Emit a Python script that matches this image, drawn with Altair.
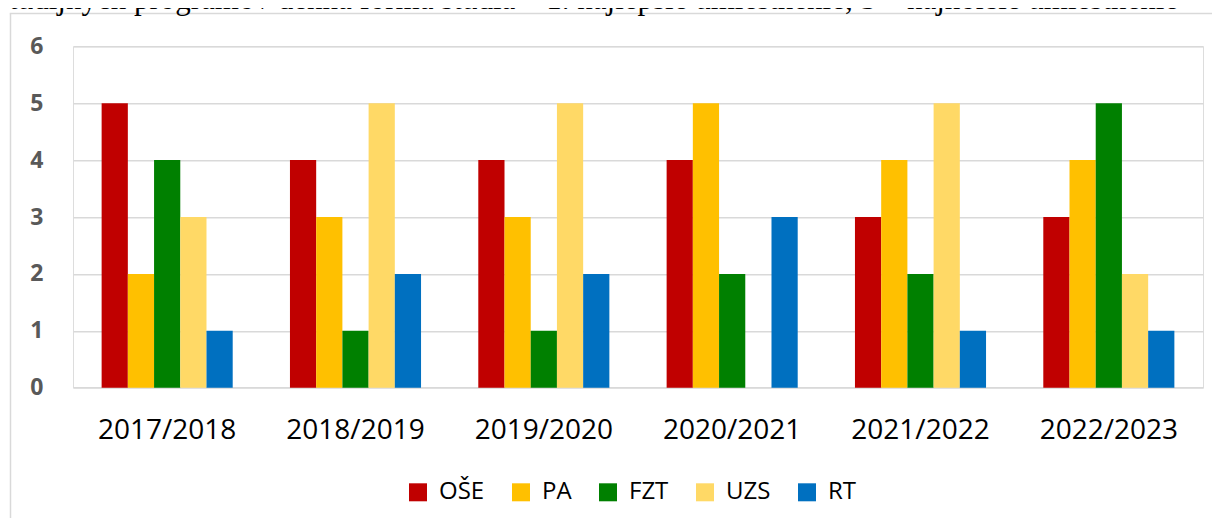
import altair as alt
import pandas as pd

years = ["2017/2018", "2018/2019", "2019/2020", "2020/2021", "2021/2022", "2022/2023"]
series = ["OŠE", "PA", "FZT", "UZS", "RT"]
colors = ["#C00000", "#FFC000", "#008000", "#FFD966", "#0070C0"]

ose = [5, 4, 4, 4, 3, 3]
pa = [2, 3, 3, 5, 4, 4]
fzt = [4, 1, 1, 2, 2, 5]
uzs = [3, 5, 5, None, 5, 2]
rt = [1, 2, 2, 3, 1, 1]

y_ticks = [0, 1, 2, 3, 4, 5, 6]
top_text = "študijných programov denná forma štúdia – 1. najlepšie umiestnenie, 5 – najhoršie umiestnenie"

rows = []
for name, vals in zip(series, [ose, pa, fzt, uzs, rt]):
    for yr, v in zip(years, vals):
        if v is not None:
            rows.append({"year": yr, "series": name, "value": v})
df = pd.DataFrame(rows)

W, H = 1130, 341.4
PL, PT = 65, 38.3
SVG_W, SVG_H = 1204, 510

bars = alt.Chart(df).mark_bar().encode(
    x=alt.X("year:N", sort=years,
            scale=alt.Scale(paddingInner=0.304, paddingOuter=0.152),
            axis=alt.Axis(title=None, labelAngle=0, ticks=False, domain=False,
                          labelFont="Open Sans", labelFontSize=28, labelColor="#000000",
                          labelPadding=29, grid=False)),
    xOffset=alt.XOffset("series:N", sort=series,
                        scale=alt.Scale(domain=series, paddingInner=0, paddingOuter=0)),
    y=alt.Y("value:Q", scale=alt.Scale(domain=[0, 6], nice=False),
            axis=alt.Axis(title=None, values=y_ticks, ticks=False, domain=False,
                          labelFont="Open Sans", labelFontSize=23, labelFontWeight="bold",
                          labelColor="#595959", labelPadding=30,
                          grid=True, gridColor="#D9D9D9", gridWidth=1.5)),
    color=alt.Color("series:N", sort=series,
                    scale=alt.Scale(domain=series, range=colors),
                    legend=alt.Legend(orient="none", legendX=333, legendY=434,
                                      direction="horizontal", title=None,
                                      symbolType="square", symbolSize=324,
                                      symbolStrokeWidth=0,
                                      labelFont="Open Sans", labelFontSize=24,
                                      labelColor="#000000", labelOffset=9,
                                      columnPadding=24)),
)

one = pd.DataFrame({"k": [0]})
vline = alt.Chart(one).mark_rule(color="#D9D9D9", strokeWidth=1.5).encode(
    x=alt.value(-62.5), y=alt.value(-32.8), y2=alt.value(SVG_H - PT + 20))
hline = alt.Chart(one).mark_rule(color="#D9D9D9", strokeWidth=1.5).encode(
    x=alt.value(-63.2), x2=alt.value(SVG_W), y=alt.value(-32.8))
toptxt = alt.Chart(one).mark_text(font="Liberation Serif", fontSize=31, align="left",
                                  baseline="alphabetic", color="#000000").encode(
    x=alt.value(-76), y=alt.value(-37.6), text=alt.value(top_text))

chart = alt.layer(bars, vline, hline, toptxt).properties(
    width=W, height=H,
    autosize=alt.AutoSizeParams(type="none"),
    padding={"left": PL, "top": PT, "right": SVG_W - PL - W, "bottom": SVG_H - PT - H},
).configure_view(strokeWidth=0, stroke="transparent").configure(background="white")

chart.save("out.html", embed_options={"renderer": "svg", "actions": False})
